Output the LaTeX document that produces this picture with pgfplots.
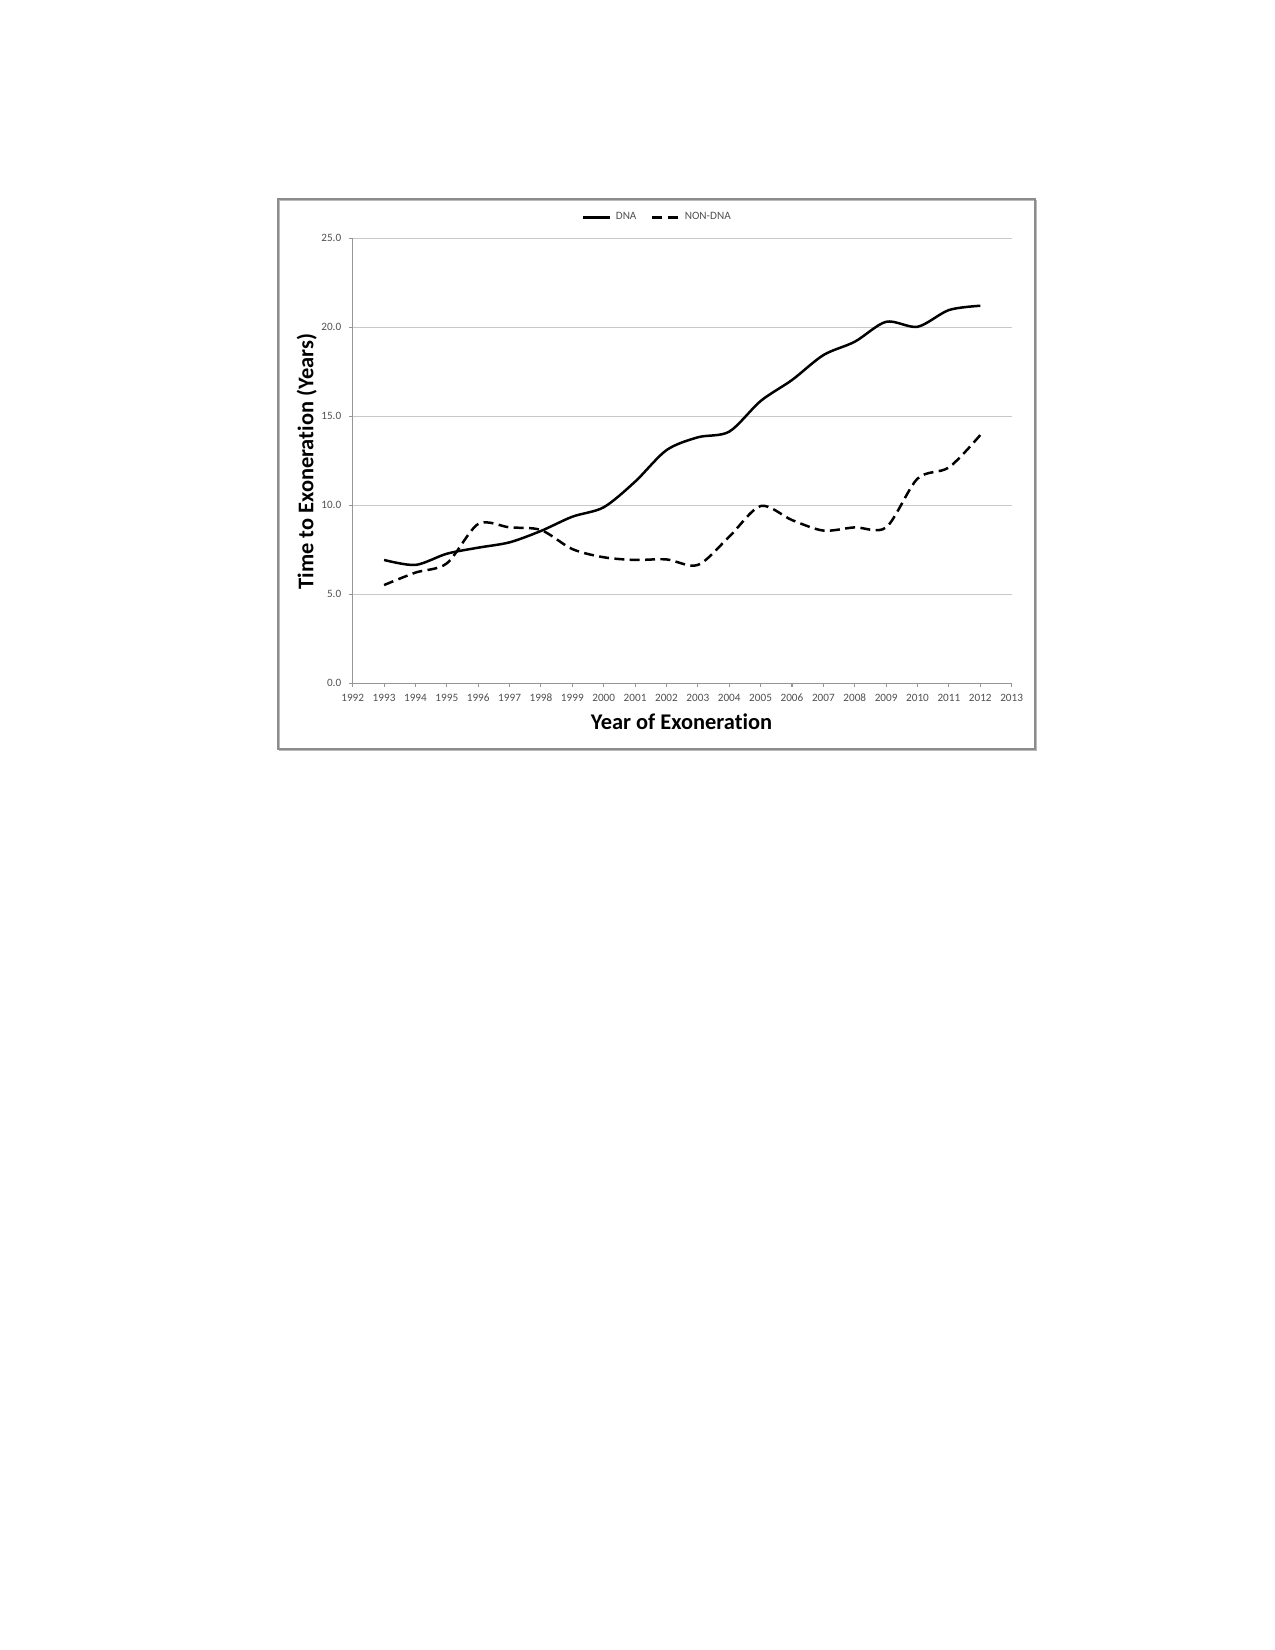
\documentclass[border=0pt]{standalone}
\usepackage{fontspec}
\setmainfont{Carlito}[Ligatures=NoCommon]
\usepackage{pgfplots}
\pgfplotsset{compat=1.18}
\definecolor{gridgray}{RGB}{200,200,200}
\definecolor{axisgray}{RGB}{150,150,150}
\definecolor{labelgray}{RGB}{80,80,80}
\definecolor{framegray}{RGB}{140,140,140}
\begin{document}
\begin{tikzpicture}
\path[use as bounding box, fill=white] (0,0) rectangle (8.5in,-11in);
\draw[framegray!60, line width=0.9pt] (1.8633in,-1.3367in) rectangle (6.91in,-5.0033in);
\draw[framegray, line width=0.9pt] (1.8533in,-1.3267in) rectangle (6.9in,-4.9933in);
\begin{axis}[
  at={(2.3513in,-4.5553in)}, anchor=south west,
  scale only axis, width=4.3933in, height=2.9667in,
  xmin=1992, xmax=2013, ymin=0, ymax=25,
  xtick={1992,...,2013}, ytick={0,5,...,25},
  axis lines*=left,
  axis line style={axisgray, line width=0.5pt},
  tick style={axisgray, line width=0.5pt},
  tick align=outside, major tick length=2pt,
  ymajorgrids, grid style={gridgray, line width=0.6pt},
  /pgf/number format/assume math mode=true,
  xticklabel style={/pgf/number format/1000 sep={}, font=\fontsize{5.4}{6}\selectfont, text=labelgray, text height=1.4ex, text depth=0.2ex, anchor=north, yshift=3.4pt},
  yticklabel style={/pgf/number format/.cd, fixed, fixed zerofill, precision=1, /tikz/.cd, font=\fontsize{5.4}{6}\selectfont, text=labelgray},
  xlabel={Year of Exoneration},
  ylabel={Time to Exoneration (Years)},
  xlabel style={font=\bfseries\fontsize{10.8}{12}\selectfont, at={(axis description cs:0.499,-0.0863)}, anchor=center},
  ylabel style={font=\bfseries\fontsize{10.8}{12}\selectfont, at={(axis description cs:-0.0698,0.498)}, anchor=center},
  legend style={at={(0.464,1.047)}, anchor=center, draw=none, fill=none,
    font=\fontsize{5.4}{6}\selectfont, text=labelgray,
    /tikz/every even column/.append style={column sep=5pt}},
  legend columns=2,
  legend image code/.code={\draw[#1] (0cm,0cm) -- (0.46cm,0cm);},
]
\addplot[black, line width=1.2pt, smooth, tension=0.5] table {
x y
1993 6.93
1994 6.65
1995 7.28
1996 7.62
1997 7.92
1998 8.56
1999 9.36
2000 9.89
2001 11.33
2002 13.1
2003 13.82
2004 14.14
2005 15.86
2006 17.04
2007 18.44
2008 19.19
2009 20.31
2010 20.03
2011 20.97
2012 21.21
};
\addlegendentry{DNA}
\addplot[black, line width=1.2pt, smooth, tension=0.5, dash pattern=on 4.8pt off 2.6pt] table {
x y
1993 5.52
1994 6.22
1995 6.74
1996 8.95
1997 8.76
1998 8.61
1999 7.54
2000 7.08
2001 6.93
2002 6.96
2003 6.65
2004 8.24
2005 9.96
2006 9.17
2007 8.58
2008 8.76
2009 8.76
2010 11.5
2011 12.13
2012 13.95
};
\addlegendentry{NON-DNA}
\end{axis}
\end{tikzpicture}
\end{document}
